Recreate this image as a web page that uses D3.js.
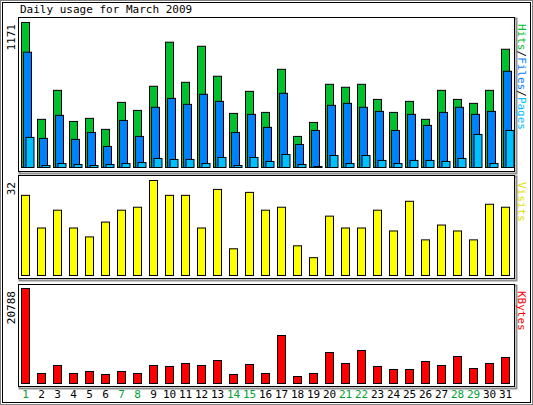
<!DOCTYPE html>
<html>
<head>
<meta charset="utf-8">
<script src="https://cdn.jsdelivr.net/npm/d3@7"></script>
<style>
  body { margin: 0; background: #fff; }
  text { font-family: "DejaVu Sans Mono", monospace; font-size: 11px; }
</style>
</head>
<body>
<svg id="chart" width="533" height="405"></svg>
<script>
  var days = d3.range(1, 32);
  var weekend = [1, 7, 8, 14, 15, 21, 22, 28, 29];
  var hits = [1171, 389, 623, 372, 397, 308, 526, 461, 656, 1012, 688, 979, 737, 437, 615, 445,
              793, 251, 364, 672, 648, 672, 550, 445, 534, 389, 623, 550, 518, 623, 955];
  var files = [931, 235, 421, 227, 283, 170, 380, 251, 486, 558, 510, 591, 534, 283, 429, 324,
               599, 186, 299, 502, 518, 486, 453, 299, 429, 340, 445, 486, 429, 453, 777];
  var pages = [243, 16, 32, 24, 16, 24, 32, 40, 73, 65, 65, 32, 81, 16, 81, 49,
               105, 24, 8, 97, 32, 97, 57, 32, 57, 57, 49, 73, 267, 32, 299];
  var visits = [27, 16, 22, 16, 13, 18, 22, 23, 32, 27, 27, 16, 29, 9, 28, 22,
                23, 10, 6, 20, 16, 16, 22, 15, 25, 12, 17, 15, 12, 24, 23];
  var kbytes = [20788, 2188, 3939, 2188, 2626, 1969, 2626, 2188, 3939, 3720, 4376, 3939, 5033, 1969, 4158, 2188,
                10503, 1532, 2188, 6783, 4376, 7221, 3720, 3063, 3063, 4814, 3939, 5908, 3282, 4376, 5689];

  var svg = d3.select('#chart');

  // outer frame
  svg.append('rect').attr('x', 0.5).attr('y', 0.5).attr('width', 532).attr('height', 404)
      .attr('fill', '#fff').attr('stroke', '#808080');
  svg.append('rect').attr('x', 2.5).attr('y', 2.5).attr('width', 528).attr('height', 400)
      .attr('fill', 'none').attr('stroke', '#000');

  svg.append('text').attr('x', 20).attr('y', 13).text('Daily usage for March 2009');

  var x = d3.scaleLinear().domain([1, 31]).range([21, 501]);

  function panel(top, bottom) {
    svg.append('rect').attr('x', 19.5).attr('y', top + 1.5).attr('width', 497).attr('height', bottom - top)
        .attr('fill', 'none').attr('stroke', '#909090').attr('stroke-width', 2);
    svg.append('rect').attr('x', 18.5).attr('y', top + 0.5).attr('width', 496).attr('height', bottom - top - 1)
        .attr('fill', '#fff').attr('stroke', '#000');
  }

  function bars(data, y, dx, w, color, base) {
    svg.append('g').selectAll('rect').data(data).enter().append('rect')
        .attr('x', function (d, i) { return x(days[i]) + dx + 0.5; })
        .attr('y', function (d) { return y(d) + 0.5; })
        .attr('width', w)
        .attr('height', function (d) { return Math.max(0, base - y(d)); })
        .attr('fill', color).attr('stroke', '#000');
  }

  function sideLabels(maxVal, top, parts) {
    svg.append('text').attr('transform', 'translate(15,' + (top + 4) + ') rotate(-90)')
        .attr('text-anchor', 'end').text(maxVal);
    var t = svg.append('text').attr('transform', 'translate(518,' + (top + 4) + ') rotate(90)');
    parts.forEach(function (p) {
      t.append('tspan').attr('fill', p[1]).text(p[0]);
    });
  }

  // hits / files / pages
  panel(17, 172);
  var y1 = d3.scaleLinear().domain([0, 1171]).range([167, 22]);
  bars(hits, y1, 0, 8, '#00c030', 167);
  bars(files, y1, 2, 8, '#0080ff', 167);
  bars(pages, y1, 4.5, 8, '#00c0ff', 167);
  sideLabels(1171, 20, [['Hits', '#00c030'], ['/', '#000'], ['Files', '#0080ff'], ['/', '#000'], ['Pages', '#00c0ff']]);

  // visits
  panel(175, 279);
  var y2 = d3.scaleLinear().domain([0, 32]).range([275, 180]);
  bars(visits, y2, 0, 8, '#ffff00', 275);
  sideLabels(32, 178, [['Visits', '#e0e000']]);

  // kbytes
  panel(284, 387);
  var y3 = d3.scaleLinear().domain([0, 20788]).range([383, 288]);
  bars(kbytes, y3, 0, 8, '#ff0000', 383);
  sideLabels(20788, 287, [['KBytes', '#ff0000']]);

  svg.append('g').selectAll('text').data(days).enter().append('text')
      .attr('x', function (d) { return x(d) + 4.5; })
      .attr('y', 398)
      .attr('text-anchor', 'middle')
      .attr('fill', function (d) { return weekend.indexOf(d) >= 0 ? '#00a030' : '#000'; })
      .text(function (d) { return d; });
</script>
</body>
</html>
